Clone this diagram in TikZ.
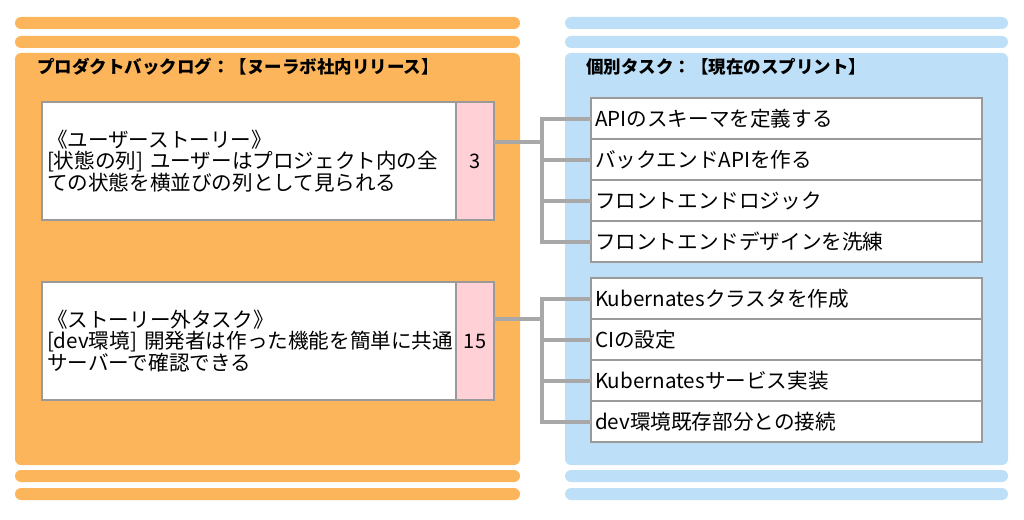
\documentclass[tikz,border=0pt]{standalone}
\usepackage{fontspec}
\setmainfont{Noto Sans CJK JP}
\usepackage{tikz}
\usetikzlibrary{positioning,calc}
\definecolor{backlogorange}{HTML}{FCB55B}
\definecolor{sprintblue}{HTML}{BDE0F8}
\definecolor{pointpink}{HTML}{FFD0D6}
\definecolor{framegray}{HTML}{9A9A9A}
\definecolor{linkgray}{HTML}{A8A8A8}

\begin{document}
\begin{tikzpicture}[
    x=1pt, y=-1pt,
    strip/.style={rectangle, rounded corners=6pt, minimum height=12pt, inner sep=0pt, outer sep=0pt, anchor=north west},
    panel/.style={rectangle, rounded corners=6pt, minimum height=412pt, inner sep=0pt, outer sep=0pt, anchor=north west},
    heading/.style={anchor=west, inner sep=0pt, font=\fontsize{17.5}{20}\selectfont\bfseries},
    story/.style={rectangle, draw=framegray, line width=1.2pt, fill=white, minimum width=414pt, minimum height=118pt, text width=404pt, align=left, inner sep=5pt, outer sep=0pt, anchor=north west, font=\fontsize{20.6}{20.5}\selectfont},
    points/.style={rectangle, draw=framegray, line width=1.2pt, fill=pointpink, minimum width=38pt, minimum height=118pt, inner sep=0pt, outer sep=0pt, font=\fontsize{20}{20}\selectfont},
    task/.style={rectangle, draw=framegray, line width=1.2pt, fill=white, minimum width=391pt, minimum height=41pt, text width=383pt, align=left, inner sep=4pt, outer sep=0pt, font=\fontsize{20.6}{20}\selectfont},
    link/.style={draw=linkgray, line width=4pt}
]
\useasboundingbox (0,0) rectangle (1024,519);

% Backlog side
\foreach \y/\n in {17/1,36/2,470/3,488/4}
    \node[strip, fill=backlogorange, minimum width=505pt] (blstrip\n) at (15,\y) {};
\node[panel, fill=backlogorange, minimum width=505pt] (backlog) at (15,53) {};
\node[heading] (bltitle) at (37,67) {プロダクトバックログ：【ヌーラボ社内リリース】};

% Sprint side
\foreach \y/\n in {17/1,36/2,470/3,488/4}
    \node[strip, fill=sprintblue, minimum width=443pt] (spstrip\n) at (565,\y) {};
\node[panel, fill=sprintblue, minimum width=443pt] (sprint) at (565,53) {};
\node[heading] (sptitle) at (586,67) {個別タスク：【現在のスプリント】};

% Links
\coordinate (bus1) at (542,142);
\coordinate (bus2) at (542,319);

% Stories
\node[story] (story1) at (42,102) {《ユーザーストーリー》\\{}[状態の列] ユーザーはプロジェクト内の全\\ての状態を横並びの列として見られる};
\node[points, right=0pt of story1] (pts1) {3};
\node[story] (story2) at (42,282) {《ストーリー外タスク》\\{}[dev環境] 開発者は作った機能を簡単に共通\\サーバーで確認できる};
\node[points, right=0pt of story2] (pts2) {15};

% Tasks
\node[task, anchor=north west] (task11) at (591,98) {APIのスキーマを定義する};
\node[task, below=0pt of task11] (task12) {バックエンドAPIを作る};
\node[task, below=0pt of task12] (task13) {フロントエンドロジック};
\node[task, below=0pt of task13] (task14) {フロントエンドデザインを洗練};
\node[task, anchor=north west] (task21) at (591,278) {Kubernatesクラスタを作成};
\node[task, below=0pt of task21] (task22) {CIの設定};
\node[task, below=0pt of task22] (task23) {Kubernatesサービス実装};
\node[task, below=0pt of task23] (task24) {dev環境既存部分との接続};

% Arrows
\foreach \s in {1,2} {
    \draw[link] (pts\s.east |- bus\s) -- (bus\s);
    \draw[link, line cap=rect] (bus\s |- task\s1.west) -- (bus\s |- task\s4.west);
    \foreach \i in {1,...,4}
        \draw[link] (bus\s |- task\s\i.west) -- (task\s\i.west);
}

\end{tikzpicture}
\end{document}
